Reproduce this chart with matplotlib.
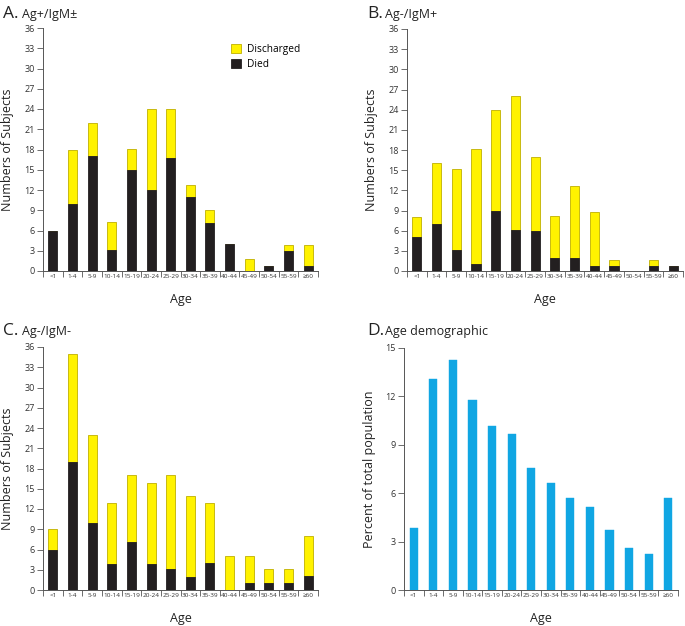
import numpy as np
import matplotlib
matplotlib.use("Agg")
import matplotlib.pyplot as plt
from matplotlib.patches import Patch

plt.rcParams['font.family'] = ['Open Sans', 'DejaVu Sans']

ages = ["<1", "1-4", "5-9", "10-14", "15-19", "20-24", "25-29",
        "30-34", "35-39", "40-44", "45-49", "50-54", "55-59", "≥60"]

# A. Ag+/IgM±
a_died = [6, 10, 17, 3.1, 15, 12, 16.8, 10.9, 7.1, 4, 0, 0.8, 2.9, 0.8]
a_total = [6, 17.9, 21.9, 7.2, 18.1, 24, 24, 12.8, 9, 4, 1.8, 0.8, 3.9, 3.9]

# B. Ag-/IgM+
b_died = [5, 7, 3.1, 1.1, 9, 6.1, 6, 2, 2, 0.8, 0.8, 0, 0.8, 0.8]
b_total = [8, 16, 15.1, 18.1, 23.9, 26.1, 17, 8.2, 12.6, 8.8, 1.6, 0, 1.6, 0.8]

# C. Ag-/IgM-
c_died = [6, 19, 10, 3.9, 7.1, 3.8, 3.1, 2, 4, 0, 1, 1, 1, 2.1]
c_total = [9, 35, 23, 12.9, 17, 15.8, 17, 14, 12.9, 5, 5, 3.1, 3.1, 8]

# D. Age demographic (percent)
d_pct = [3.85, 13.1, 14.25, 11.8, 10.15, 9.7, 7.55, 6.65, 5.7, 5.15,
         3.75, 2.6, 2.25, 5.7]

YELLOW = "#fff200"
YEDGE = "#bfb000"
BLACK = "#231f20"
BLUE = "#10a6e3"
SPINE = "#555555"

W, H = 685, 626


def style_axes(ax, ymax, ystep, ylabel):
    n = len(ages)
    x = np.arange(n)
    ax.set_xlim(-0.5, n - 0.5)
    ax.set_ylim(0, ymax)
    ax.set_yticks(np.arange(0, ymax + 0.1, ystep))
    ax.set_xticks(np.arange(-0.5, n, 1.0))
    ax.set_xticklabels([])
    ax.set_xticks(x, minor=True)
    ax.set_xticklabels(ages, minor=True, fontsize=4.6, color="#333333")
    ax.tick_params(axis="x", which="major", length=4, width=0.6, color=SPINE)
    ax.tick_params(axis="x", which="minor", length=0, pad=2)
    ax.tick_params(axis="y", length=4, width=0.6, color=SPINE,
                   labelsize=6.5, labelcolor="#333333", pad=2)
    for s in ["top", "right"]:
        ax.spines[s].set_visible(False)
    for s in ["left", "bottom"]:
        ax.spines[s].set_color(SPINE)
        ax.spines[s].set_linewidth(0.7)
    ax.set_ylabel(ylabel, fontsize=9, color="#222222", labelpad=7)
    ax.set_xlabel("Age", fontsize=9, color="#222222", labelpad=8)


def stacked(ax, died, total):
    x = np.arange(len(ages))
    died = np.array(died)
    total = np.array(total)
    disch = total - died
    ax.bar(x, disch, bottom=died, width=0.46, color=YELLOW,
           edgecolor=YEDGE, linewidth=0.6, label="Discharged")
    ax.bar(x, died, width=0.46, color=BLACK, edgecolor=BLACK,
           linewidth=0.6, label="Died")
    style_axes(ax, 36, 3, "Numbers of Subjects")


def panel_title(px, py, letter, text):
    fig.text(px / W, 1 - py / H, letter, fontsize=12.5, color="#222222",
             va="baseline", ha="left")
    fig.text((px + 18.5) / W, 1 - py / H, text, fontsize=9, color="#222222",
             va="baseline", ha="left")


def axes_px(left, top, right, bottom):
    return fig.add_axes([left / W, 1 - bottom / H, (right - left) / W,
                         (bottom - top) / H])


fig = plt.figure(figsize=(6.85, 6.26), dpi=100)

axA = axes_px(43, 28, 318, 271)
stacked(axA, a_died, a_total)
handles = [Patch(facecolor=YELLOW, edgecolor=YEDGE, linewidth=0.6),
           Patch(facecolor=BLACK, edgecolor=BLACK, linewidth=0.6)]
axA.legend(handles, ["Discharged", "Died"], loc="upper left",
           bbox_to_anchor=(0.65, 0.97), frameon=False, fontsize=7.3,
           handlelength=1.0, handleheight=1.0, handletextpad=0.6,
           labelspacing=0.35)

axB = axes_px(407, 29, 683, 271)
stacked(axB, b_died, b_total)

axC = axes_px(43, 347, 318, 590)
stacked(axC, c_died, c_total)

axD = axes_px(404, 348, 678, 590)
axD.bar(np.arange(len(ages)), d_pct, width=0.42, color=BLUE,
        edgecolor=BLUE, linewidth=0.3)
style_axes(axD, 15, 3, "Percent of total population")

panel_title(3, 18, "A.", "Ag+/IgM±")
panel_title(367, 18, "B.", "Ag-/IgM+")
panel_title(3, 335, "C.", "Ag-/IgM-")
panel_title(367, 335, "D.", "Age demographic")

fig.savefig("out.png", dpi=100)
